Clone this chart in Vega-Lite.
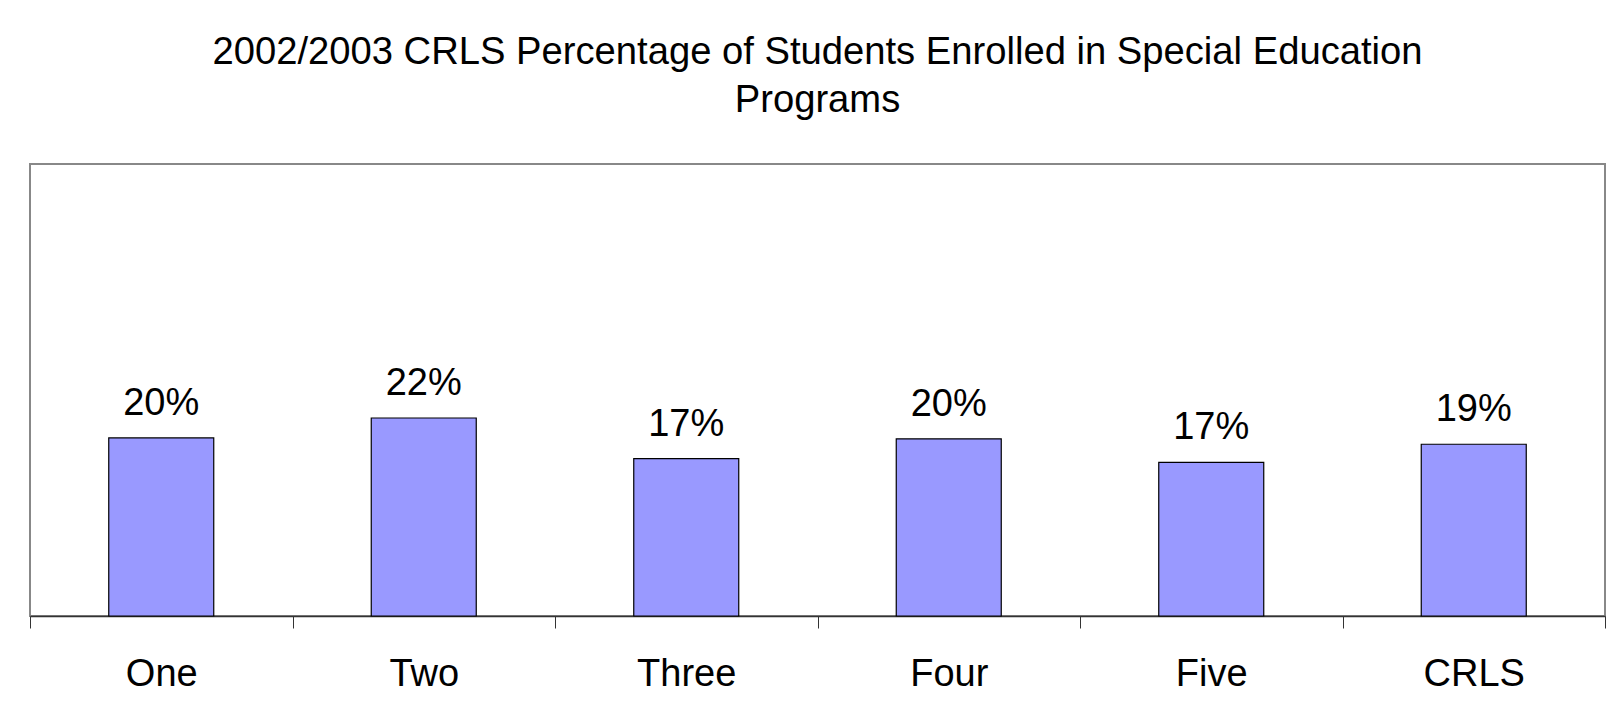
{
  "$schema": "https://vega.github.io/schema/vega-lite/v6.json",
  "width": 1575,
  "height": 452,
  "autosize": {"type": "none"},
  "padding": {"left": 30, "top": 164, "right": 16, "bottom": 108},
  "background": "white",
  "title": {
    "text": ["2002/2003 CRLS Percentage of Students Enrolled in Special Education", "Programs"],
    "font": "Liberation Sans",
    "fontSize": 38.2,
    "fontWeight": "normal",
    "lineHeight": 48,
    "color": "black",
    "anchor": "middle",
    "frame": "group",
    "offset": 44
  },
  "data": {
    "values": [
      {"grade": "One", "pct": 0.197},
      {"grade": "Two", "pct": 0.219},
      {"grade": "Three", "pct": 0.174},
      {"grade": "Four", "pct": 0.196},
      {"grade": "Five", "pct": 0.170},
      {"grade": "CRLS", "pct": 0.190}
    ]
  },
  "encoding": {
    "x": {
      "field": "grade",
      "type": "nominal",
      "sort": null,
      "scale": {"paddingInner": 0, "paddingOuter": 0},
      "axis": {
        "title": null,
        "labelAngle": 0,
        "labelFont": "Liberation Sans",
        "labelFontSize": 38,
        "labelColor": "black",
        "labelPadding": 27,
        "tickBand": "extent",
        "tickSize": 12,
        "tickColor": "#333333",
        "tickWidth": 1,
        "domainColor": "#333333",
        "domainWidth": 1.5
      }
    },
    "y": {
      "field": "pct",
      "type": "quantitative",
      "scale": {"domain": [0, 0.5], "nice": false},
      "axis": null
    }
  },
  "layer": [
    {
      "mark": {"type": "bar", "color": "#9999FF", "stroke": "black", "strokeWidth": 1.2, "width": {"band": 0.4}}
    },
    {
      "mark": {"type": "text", "baseline": "alphabetic", "dy": -23, "font": "Liberation Sans", "fontSize": 38, "color": "black"},
      "encoding": {
        "text": {"field": "pct", "type": "quantitative", "format": ".0%"}
      }
    }
  ],
  "config": {
    "view": {"stroke": "#888888", "strokeWidth": 2}
  }
}
